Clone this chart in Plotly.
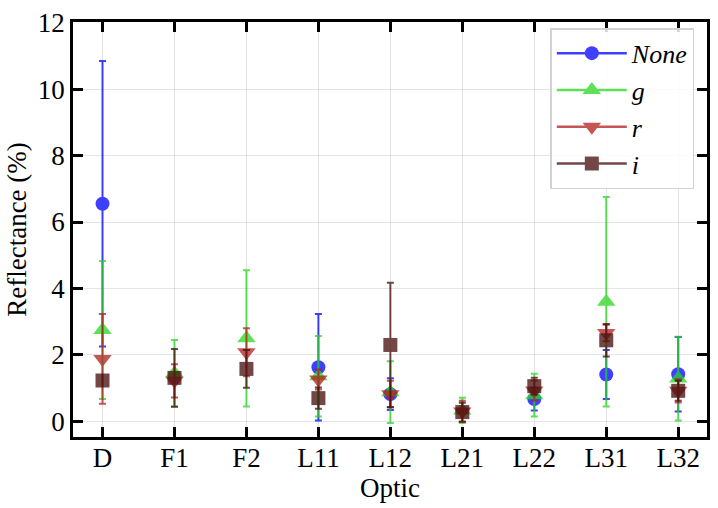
import plotly.graph_objects as go

optics = ["D", "F1", "F2", "L11", "L12", "L21", "L22", "L31", "L32"]
xpos = list(range(len(optics)))

none_vals = [6.55, None, None, 1.63, 0.82, None, 0.67, 1.41, 1.42]
none_err = [4.3, None, None, 1.6, 0.48, None, 0.34, 0.74, 1.12]

g_vals = [2.75, 1.45, 2.5, 1.36, 0.88, 0.33, 0.79, 3.6, 1.29]
g_err = [2.08, 1.0, 2.05, 1.21, 0.93, 0.38, 0.64, 3.15, 1.26]

r_vals = [1.88, 1.22, 2.08, 1.26, 0.82, 0.3, 0.93, 2.66, 0.92]
r_err = [1.35, 0.5, 0.72, 0.3, 0.4, 0.32, 0.3, 0.25, 0.35]

i_vals = [1.23, 1.31, 1.58, 0.7, 2.3, 0.28, 1.06, 2.44, 0.92]
i_err = [0.1, 0.87, 0.57, 0.32, 1.87, 0.28, 0.25, 0.49, 0.3]

series = [
    ("None", none_vals, none_err, "rgb(0,0,255)", "circle", 14),
    ("g", g_vals, g_err, "rgb(40,215,30)", "triangle-up", 16),
    ("r", r_vals, r_err, "rgb(178,30,30)", "triangle-down", 16),
    ("i", i_vals, i_err, "rgb(70,10,10)", "square", 14),
]

fig = go.Figure()
for name, vals, errs, col, sym, sz in series:
    fig.add_trace(go.Scatter(
        x=xpos, y=vals, mode="markers", showlegend=False, opacity=0.75,
        marker=dict(symbol=sym, size=sz, color=col),
        error_y=dict(type="data", array=[e if e is not None else 0 for e in errs],
                     color=col, thickness=2, width=3.5),
    ))
for name, vals, errs, col, sym, sz in series:
    fig.add_trace(go.Scatter(
        x=[None], y=[None], mode="lines+markers", name=name, opacity=0.75,
        marker=dict(symbol=sym, size=sz, color=col),
        line=dict(color=col, width=2.5),
    ))

font_family = "'Liberation Serif', 'Times New Roman', Times, serif"
axis_common = dict(
    showline=True, linecolor="black", linewidth=2.5, mirror="allticks",
    ticks="inside", ticklen=10, tickwidth=2.5, tickcolor="black",
    showgrid=True, gridcolor="rgba(0,0,0,0.1)", gridwidth=1,
    zeroline=False,
    tickfont=dict(family=font_family, size=27, color="black"),
)

fig.update_xaxes(
    **axis_common, range=[-0.41, 8.4], tickmode="array", tickvals=xpos, ticktext=optics,
    ticklabelstandoff=-5,
    title=dict(text="Optic", font=dict(family=font_family, size=27, color="black"), standoff=0),
)
fig.update_yaxes(
    **axis_common, range=[-0.47, 12.02], tickmode="array", tickvals=[0, 2, 4, 6, 8, 10, 12],
    title=dict(text="Reflectance (%)", font=dict(family=font_family, size=27, color="black"), standoff=4),
)

fig.update_layout(
    width=718, height=508,
    margin=dict(l=73, r=8, t=15, b=71),
    plot_bgcolor="white", paper_bgcolor="white",
    font=dict(family=font_family, color="black"),
    legend=dict(
        x=0.98, y=0.985, xanchor="right", yanchor="top",
        bgcolor="rgba(255,255,255,0.85)", bordercolor="rgb(210,210,210)", borderwidth=1.5,
        font=dict(family=font_family, size=26, style="italic"),
        itemwidth=70, tracegroupgap=4,
    ),
)

fig.write_html("out.html")
